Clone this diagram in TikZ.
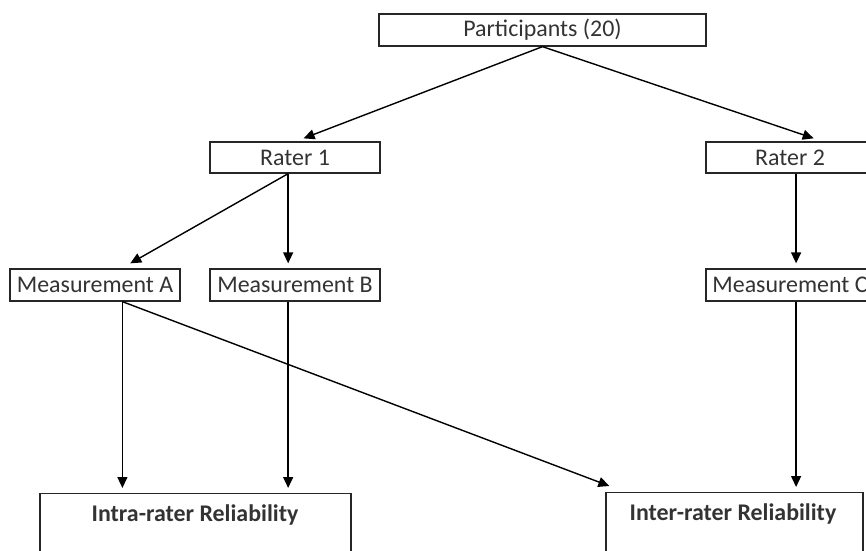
\documentclass[tikz,border=0pt]{standalone}
\usepackage{fontspec}
\setmainfont{Carlito}
\usetikzlibrary{arrows.meta,calc}
\begin{document}
\begin{tikzpicture}[x=1bp,y=-1bp,
  box/.style={draw=black!85,line width=1.3bp,rectangle,inner sep=0pt,font=\fontsize{24}{28}\selectfont,text=black!80},
  arr/.style={draw=black,line width=1.4bp,-{Triangle[length=11bp,width=10bp]}}]
\clip (0,0) rectangle (866,551);
\fill[white] (0,0) rectangle (866,551);
\node[box,minimum width=327bp,minimum height=32bp] (P) at (542.5,30) {Participants (20)};
\node[box,minimum width=170bp,minimum height=31bp] (R1) at (295,157.5) {Rater 1};
\node[box,minimum width=168bp,minimum height=31bp] (R2) at (790,157.5) {Rater 2};
\node[box,minimum width=170bp,minimum height=32bp] (MA) at (95,285) {Measurement A};
\node[box,minimum width=170bp,minimum height=32bp] (MB) at (295,285) {Measurement B};
\node[box,minimum width=168bp,minimum height=32bp] (MC) at (790,285) {Measurement C};
\node[box,anchor=north,minimum width=311bp,minimum height=80bp] (IA) at (195.5,493) {};
\node[box,anchor=north,minimum width=257bp,minimum height=80bp] (IE) at (734.5,492) {};
\node[box,draw=none,font=\fontsize{24}{28}\selectfont\bfseries] (IAt) at (195,515) {Intra-rater Reliability};
\node[box,draw=none,font=\fontsize{24}{28}\selectfont\bfseries] (IEt) at (733,514) {Inter-rater Reliability};
% connectors
\draw[arr] (P.south) -- ($(R1.north west)!0.55!(R1.north east)+(0,-3)$);
\draw[arr] (P.south) -- ($(R2.north west)!0.64!(R2.north east)+(0,-3)$);
\coordinate (r1b) at ($(R1.south west)!0.46!(R1.south east)$);
\draw[arr] (r1b) -- ($(MA.north west)!0.706!(MA.north east)+(0,-5)$);
\draw[arr] (r1b) -- ($(MB.north west)!0.46!(MB.north east)+(0,-5)$);
\coordinate (r2b) at ($(R2.south west)!0.536!(R2.south east)$);
\draw[arr] (r2b) -- ($(r2b |- MC.north)+(0,-5)$);
\coordinate (mab) at ($(MA.south west)!0.66!(MA.south east)$);
\draw[arr] (mab) -- ($(mab |- IA.north)+(0,-5)$);
\draw[arr] (mab) -- ($(IE.north west)+(4,-6)$);
\coordinate (mbb) at ($(MB.south west)!0.46!(MB.south east)$);
\draw[arr] (mbb) -- ($(mbb |- IA.north)+(0,-5)$);
\coordinate (mcb) at ($(MC.south west)!0.536!(MC.south east)$);
\draw[arr] (mcb) -- ($(mcb |- IE.north)+(0,-5)$);
\end{tikzpicture}
\end{document}
